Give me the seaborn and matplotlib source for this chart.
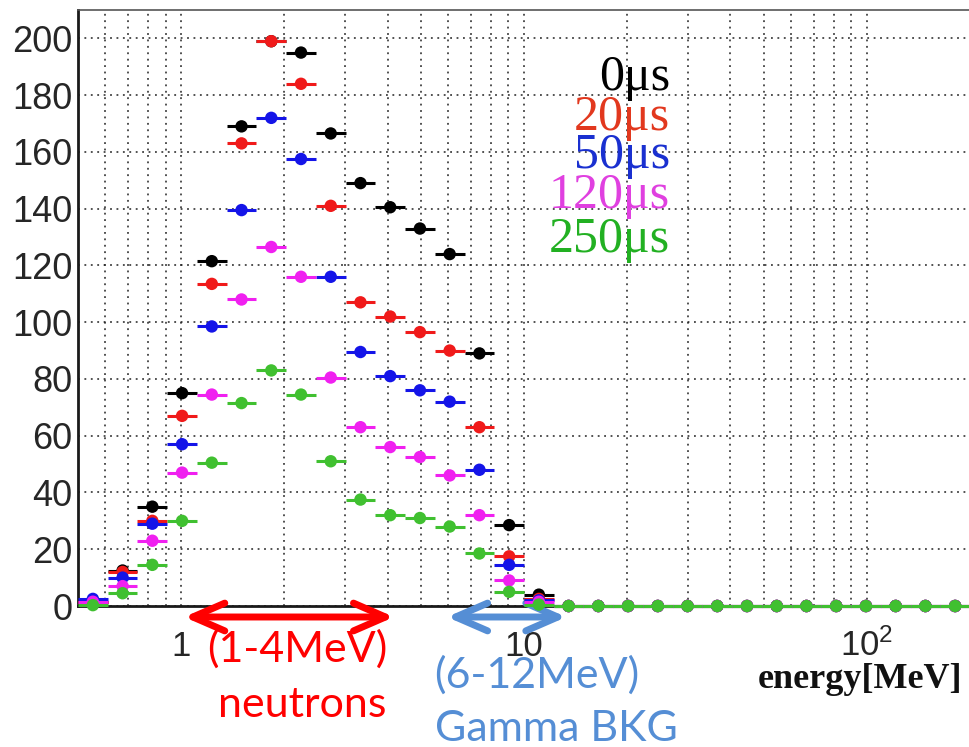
import numpy as np
import pandas as pd
import matplotlib
matplotlib.use("Agg")
import matplotlib.pyplot as plt
import matplotlib.ticker as mticker
import matplotlib.transforms as mtransforms
import seaborn as sns

# ---- binning: logarithmic energy bins ----
e_min, e_max, n_bins = 0.5, 200.0, 30

# ---- counts per energy bin for each gate delay ----
delays = ["0μs", "20μs", "50μs", "120μs", "250μs"]
counts_0us = [1.5, 12.5, 35, 75, 121.5, 169, 199, 195, 166.5, 149, 140.5, 133, 124, 89, 28.5, 4,
              0, 0, 0, 0, 0, 0, 0, 0, 0, 0, 0, 0, 0, 0]
counts_20us = [1.5, 12, 30, 67, 113.5, 163, 199, 184, 141, 107, 102, 96.5, 90, 63, 17.5, 2.5,
               0, 0, 0, 0, 0, 0, 0, 0, 0, 0, 0, 0, 0, 0]
counts_50us = [2.5, 10, 29, 57, 98.5, 139.5, 172, 157.5, 116, 89.5, 81, 76, 72, 48, 14.5, 2,
               0, 0, 0, 0, 0, 0, 0, 0, 0, 0, 0, 0, 0, 0]
counts_120us = [1.5, 7, 23, 47, 74.5, 108, 126.5, 116, 80.5, 63, 56, 52.5, 46, 32, 9, 1.5,
                0, 0, 0, 0, 0, 0, 0, 0, 0, 0, 0, 0, 0, 0]
counts_250us = [0.3, 4.5, 14.5, 30, 50.5, 71.5, 83, 74.5, 51, 37.5, 32, 31, 28, 18.5, 5, 0.5,
                0, 0, 0, 0, 0, 0, 0, 0, 0, 0, 0, 0, 0, 0]
series = [counts_0us, counts_20us, counts_50us, counts_120us, counts_250us]

marker_colors = ["#000000", "#f01a1a", "#1414e8", "#f020f0", "#40c030"]
label_colors = ["#000000", "#e2381e", "#1a30d0", "#e040e0", "#22b022"]

x_ticks = [1, 10, 100]
x_ticklabels = ["1", "10", r"$\mathregular{10^{2}}$"]
y_ticks = [0, 20, 40, 60, 80, 100, 120, 140, 160, 180, 200]

# ---- build the table ----
edges = np.geomspace(e_min, e_max, n_bins + 1)
centers = np.sqrt(edges[:-1] * edges[1:])
frames = []
for name, vals in zip(delays, series):
    frames.append(pd.DataFrame({"energy": centers, "lo": edges[:-1], "hi": edges[1:],
                                "counts": vals, "delay": name}))
df = pd.concat(frames, ignore_index=True)

sns.set_style("white")
plt.rcParams["font.family"] = ["Liberation Sans", "DejaVu Sans"]
plt.rcParams["mathtext.default"] = "regular"

W, H = 970, 747
fig = plt.figure(figsize=(W / 100, H / 100), dpi=100)
ax = fig.add_axes([78 / W, 141 / H, 892 / W, 596 / H])

ax.set_xscale("log")
ax.set_xlim(e_min, e_max)
ax.set_ylim(0, 210)

# grid (ROOT-like dotted lines)
grid_kw = dict(color="#222222", linestyle=(0, (1.2, 3.0)), linewidth=1.1)
ax.xaxis.grid(True, which="both", **grid_kw)
ax.yaxis.grid(True, which="major", **grid_kw)
ax.set_axisbelow(True)

# horizontal bin-width bars + markers, one delay at a time
for i, (name, col) in enumerate(zip(delays, marker_colors)):
    sub = df[df["delay"] == name]
    ax.hlines(sub["counts"], sub["lo"], sub["hi"], colors=col, linewidth=2.2,
              zorder=3 + 2 * i, clip_on=False)
    sns.scatterplot(data=sub, x="energy", y="counts", ax=ax, color=col, s=80,
                    edgecolor="none", linewidth=0, zorder=4 + 2 * i, legend=False,
                    clip_on=False)

# axes and ticks
ax.set_xlabel("")
ax.set_ylabel("")
ax.set_yticks(y_ticks)
ax.yaxis.set_minor_locator(mticker.MultipleLocator(5))
ax.set_xticks(x_ticks)
ax.set_xticklabels(x_ticklabels)
ax.xaxis.set_minor_locator(mticker.LogLocator(base=10, subs=np.arange(2, 10)))
ax.xaxis.set_minor_formatter(mticker.NullFormatter())

ax.tick_params(axis="y", which="major", direction="in", length=18.5, width=1.8,
               color="#333333", labelsize=26, pad=4.0)
ax.tick_params(axis="y", which="minor", direction="in", length=9.3, width=1.8,
               color="#333333")
ax.tick_params(axis="x", which="major", direction="in", length=11.5, width=1.6,
               color="#333333", labelsize=25, pad=36)
ax.tick_params(axis="x", which="minor", direction="in", length=5.5, width=1.4,
               color="#333333")
for lab in ax.get_xticklabels():
    lab.set_verticalalignment("baseline")

for side in ["left", "bottom"]:
    ax.spines[side].set_linewidth(2.0)
    ax.spines[side].set_color("#1a1a1a")
ax.spines["top"].set_linewidth(1.2)
ax.spines["top"].set_color("#555555")
ax.spines["right"].set_linewidth(1.2)
ax.spines["right"].set_color("#555555")

# delay labels
label_baselines = [90, 130, 168, 208, 252]
for name, col, yb in zip(delays, label_colors, label_baselines):
    ax.text((670 - 78) / 892, (606 - yb) / 596, name, transform=ax.transAxes,
            ha="right", va="baseline", color=col, fontsize=36,
            family=["Liberation Serif", "DejaVu Serif"])

fig.text(962 / W, 1 - 679 / H, "energy[MeV]", ha="right", va="center",
         family="Liberation Serif", weight="bold", fontsize=26, color="#111111")

# energy-window arrows below the axis
trans = mtransforms.blended_transform_factory(ax.transData, ax.transAxes)
ya = (606 - 617) / 596
for x0, x1, col in [(1.02, 4.18, "#ff0000"), (5.96, 13.3, "#558ed5")]:
    ax.annotate("", xy=(x1, ya), xytext=(x0, ya), xycoords=trans, textcoords=trans,
                annotation_clip=False,
                arrowprops=dict(arrowstyle="<->,head_length=2.3,head_width=1.0",
                                mutation_scale=10, lw=5, color=col, shrinkA=0, shrinkB=0,
                                capstyle="round", joinstyle="round"))

txt_kw = dict(ha="center", va="center", family=["Lato", "DejaVu Sans"], fontsize=31)
fig.text(297 / W, 1 - 649 / H, "(1-4MeV)", color="#ff0000", **txt_kw)
fig.text(302 / W, 1 - 705 / H, "neutrons", color="#ff0000", **txt_kw)
fig.text(537 / W, 1 - 675 / H, "(6-12MeV)", color="#558ed5", **txt_kw)
fig.text(556 / W, 1 - 729 / H, "Gamma BKG", color="#558ed5", **txt_kw)

fig.savefig("out.png", dpi=100)
